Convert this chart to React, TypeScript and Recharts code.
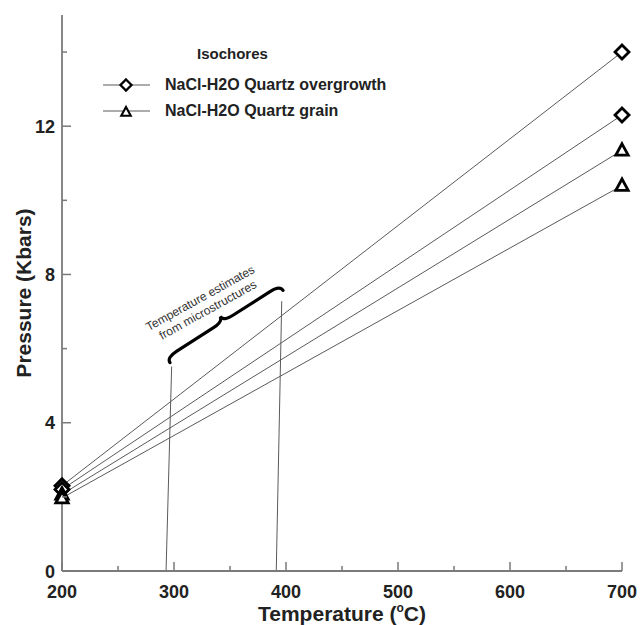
import { Legend, Line, LineChart, ReferenceLine, XAxis, YAxis } from "recharts";

const temps = [200, 700];
const overgrowthHigh = [2.3, 14.0];
const overgrowthLow = [2.2, 12.3];
const grainHigh = [2.07, 11.35];
const grainLow = [1.97, 10.4];

const xTicks = [200, 250, 300, 350, 400, 450, 500, 550, 600, 650, 700];
const yTicks = [0, 2, 4, 6, 8, 10, 12, 14];
const xMajor = [200, 300, 400, 500, 600, 700];
const yMajor = [0, 4, 8, 12];

// thin guide lines (scanned, so slightly slanted) and the brace between them
const lowGuide = [
  { x: 292.9, y: 0 },
  { x: 297.9, y: 5.52 },
];
const highGuide = [
  { x: 391.3, y: 0 },
  { x: 396.2, y: 7.28 },
];
const brace = [
  { x: 296.4, y: 5.62 },
  { x: 397.3, y: 7.57 },
];
const braceText = ["Temperature estimates", "from microstructures"];

const seriesNames = ["NaCl-H2O Quartz overgrowth", "NaCl-H2O Quartz grain"];

const data = temps.map((t, i) => ({
  t,
  og1: overgrowthHigh[i],
  og2: overgrowthLow[i],
  gr1: grainHigh[i],
  gr2: grainLow[i],
}));

const FONT = '"Liberation Sans", Arial, Helvetica, sans-serif';
const AXIS = "#7a7a7a";
const LINE = "#5a5a5a";

const Diamond = ({ cx, cy, r = 7, sw = 2.8 }: any) => (
  <path
    d={`M${cx},${cy - r} L${cx + r},${cy} L${cx},${cy + r} L${cx - r},${cy} Z`}
    fill="#fff"
    stroke="#000"
    strokeWidth={sw}
    strokeLinejoin="miter"
  />
);

const Triangle = ({ cx, cy, r = 6.5, sw = 2.8 }: any) => (
  <path
    d={`M${cx},${cy - r} L${cx + r * 0.95},${cy + r * 0.75} L${cx - r * 0.95},${cy + r * 0.75} Z`}
    fill="#fff"
    stroke="#000"
    strokeWidth={sw}
    strokeLinejoin="miter"
  />
);

const XTick = ({ x, y, payload }: any) => {
  const major = xMajor.includes(payload.value);
  return (
    <g>
      <line x1={x} y1={y} x2={x} y2={y - (major ? 9 : 5)} stroke={AXIS} strokeWidth={1.5} />
      {major && (
        <text x={x} y={y + 27} textAnchor="middle" fontSize={18} fontWeight="bold" fill="#222" fontFamily={FONT}>
          {payload.value}
        </text>
      )}
    </g>
  );
};

const YTick = ({ x, y, payload }: any) => {
  const major = yMajor.includes(payload.value);
  return (
    <g>
      <line x1={x} y1={y} x2={x + (major ? 9 : 5)} y2={y} stroke={AXIS} strokeWidth={1.5} />
      {major && (
        <text x={x - 7} y={y + 6.5} textAnchor="end" fontSize={18} fontWeight="bold" fill="#222" fontFamily={FONT}>
          {payload.value}
        </text>
      )}
    </g>
  );
};

const BraceShape = ({ x1, y1, x2, y2 }: any) => {
  const dx = x2 - x1;
  const dy = y2 - y1;
  const L = Math.sqrt(dx * dx + dy * dy);
  const u = { x: dx / L, y: dy / L };
  const n = { x: u.y, y: -u.x }; // points up-left
  const p = (s: number, t: number) => `${x1 + u.x * s + n.x * t},${y1 + u.y * s + n.y * t}`;
  const w = 6;
  const q = 12;
  const d = [
    `M${p(0, 0)}`,
    `Q${p(0, w)} ${p(q, w)}`,
    `L${p(L / 2 - q, w)}`,
    `Q${p(L / 2, w)} ${p(L / 2, 2 * w)}`,
    `Q${p(L / 2, w)} ${p(L / 2 + q, w)}`,
    `L${p(L - q, w)}`,
    `Q${p(L, w)} ${p(L, 0)}`,
  ].join(" ");
  const mx = (x1 + x2) / 2;
  const my = (y1 + y2) / 2;
  const line2 = { x: mx - u.x * 7 + n.x * 20, y: my - u.y * 7 + n.y * 20 };
  const line1 = { x: line2.x + n.x * 14, y: line2.y + n.y * 14 };
  const angle = -29;
  return (
    <g>
      <path d={d} fill="none" stroke="#000" strokeWidth={3.2} strokeLinecap="round" />
      <text
        x={line1.x}
        y={line1.y}
        textAnchor="middle"
        fontSize={12}
        fill="#333"
        fontFamily={FONT}
        transform={`rotate(${angle} ${line1.x} ${line1.y})`}
      >
        {braceText[0]}
      </text>
      <text
        x={line2.x}
        y={line2.y}
        textAnchor="middle"
        fontSize={12}
        fill="#333"
        fontFamily={FONT}
        transform={`rotate(${angle} ${line2.x} ${line2.y})`}
      >
        {braceText[1]}
      </text>
    </g>
  );
};

const LegendBox = () => (
  <div style={{ fontFamily: FONT, fontWeight: "bold", fontSize: 16, color: "#222" }}>
    <div style={{ paddingLeft: 94, height: 24, lineHeight: "24px", fontSize: 15 }}>Isochores</div>
    <div style={{ height: 6 }} />
    {seriesNames.map((name, i) => (
      <div key={name} style={{ display: "flex", alignItems: "center", height: 26 }}>
        <svg width={62} height={20} style={{ flexShrink: 0 }}>
          <line x1={0} y1={10} x2={47} y2={10} stroke={LINE} strokeWidth={1.2} />
          {i === 0 ? <Diamond cx={23} cy={10} r={5.5} sw={2.3} /> : <Triangle cx={23} cy={11} r={5} sw={2.1} />}
        </svg>
        <span>{name}</span>
      </div>
    ))}
  </div>
);

const YLabel = ({ viewBox }: any) => {
  const vb = viewBox || { x: 12, y: 15, width: 50, height: 556 };
  const cx = vb.x + 11;
  const cy = vb.y + vb.height / 2;
  return (
    <text
      x={cx}
      y={cy}
      textAnchor="middle"
      dominantBaseline="central"
      fontSize={21}
      fontWeight="bold"
      fill="#222"
      fontFamily={FONT}
      transform={`rotate(-90 ${cx} ${cy})`}
    >
      Pressure (Kbars)
    </text>
  );
};

const XLabel = ({ viewBox }: any) => {
  const vb = viewBox || { x: 62, y: 571, width: 560, height: 44 };
  const cx = vb.x + vb.width / 2;
  return (
    <text x={cx} y={vb.y + 50} textAnchor="middle" fontSize={21} fontWeight="bold" fill="#222" fontFamily={FONT}>
      <tspan>Temperature (</tspan>
      <tspan dy={-9} fontSize={12}>o</tspan>
      <tspan dy={9}>C)</tspan>
    </text>
  );
};

export default function App() {
  return (
    <div style={{ position: "absolute", left: 0, top: 0, width: 642, height: 625, background: "#fff" }}>
      <LineChart width={642} height={625} data={data} margin={{ top: 15, right: 20, bottom: 10, left: 12 }}>
        <XAxis
          type="number"
          dataKey="t"
          domain={[200, 700]}
          ticks={xTicks}
          interval={0}
          height={44}
          tickSize={0}
          tickMargin={0}
          tickLine={false}
          tick={<XTick />}
          axisLine={{ stroke: AXIS, strokeWidth: 1.8 }}
          label={<XLabel />}
        />
        <YAxis
          type="number"
          domain={[0, 15]}
          ticks={yTicks}
          interval={0}
          width={50}
          tickSize={0}
          tickMargin={0}
          tickLine={false}
          tick={<YTick />}
          axisLine={{ stroke: AXIS, strokeWidth: 1.8 }}
          label={<YLabel />}
        />
        <ReferenceLine segment={lowGuide} stroke={LINE} strokeWidth={1} />
        <ReferenceLine segment={highGuide} stroke={LINE} strokeWidth={1} />
        <ReferenceLine segment={brace} stroke="#000" shape={(props: any) => <BraceShape {...props} />} />
        <Line dataKey="og1" stroke={LINE} strokeWidth={1} isAnimationActive={false} dot={(p: any) => <Diamond key={`a${p.index}`} cx={p.cx} cy={p.cy} />} />
        <Line dataKey="og2" stroke={LINE} strokeWidth={1} isAnimationActive={false} dot={(p: any) => <Diamond key={`b${p.index}`} cx={p.cx} cy={p.cy} />} />
        <Line dataKey="gr1" stroke={LINE} strokeWidth={1} isAnimationActive={false} dot={(p: any) => <Triangle key={`c${p.index}`} cx={p.cx} cy={p.cy} />} />
        <Line dataKey="gr2" stroke={LINE} strokeWidth={1} isAnimationActive={false} dot={(p: any) => <Triangle key={`d${p.index}`} cx={p.cx} cy={p.cy} />} />
        <Legend
          layout="vertical"
          align="center"
          verticalAlign="middle"
          content={<LegendBox />}
          wrapperStyle={{ top: 42, left: 103, width: 340 }}
        />
      </LineChart>
    </div>
  );
}
